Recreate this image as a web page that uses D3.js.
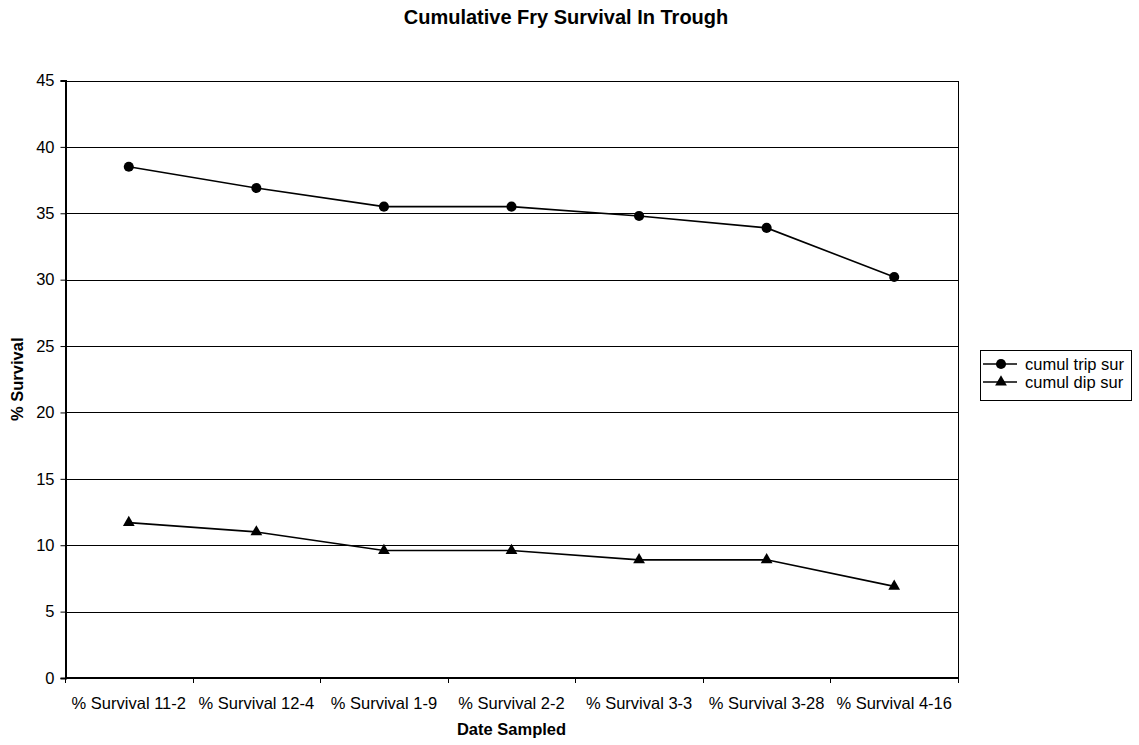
<!DOCTYPE html>
<html>
<head>
<meta charset="utf-8">
<script src="https://cdn.jsdelivr.net/npm/d3@7"></script>
<style>
  html, body { margin: 0; padding: 0; background: #fff; }
  svg { display: block; font-family: "Liberation Sans", Arial, sans-serif; }
</style>
</head>
<body>
<svg id="chart" width="1139" height="745"></svg>
<script>
// Sampling dates and cumulative survival (%) for each group
const categories = ["% Survival 11-2", "% Survival 12-4", "% Survival 1-9", "% Survival 2-2",
                    "% Survival 3-3", "% Survival 3-28", "% Survival 4-16"];
const tripSurvival = [38.5, 36.9, 35.5, 35.5, 34.8, 33.9, 30.2];
const dipSurvival = [11.7, 11.0, 9.6, 9.6, 8.9, 8.9, 6.9];
const yTicks = [0, 5, 10, 15, 20, 25, 30, 35, 40, 45];
const seriesNames = ["cumul trip sur", "cumul dip sur"];

const FONT = 16.5;
const svg = d3.select("#chart");
const plot = { left: 65, right: 958, top: 80.5, bottom: 678 };

const x = d3.scaleBand().domain(categories).range([plot.left, plot.right]);
const y = d3.scaleLinear().domain([0, 45]).range([plot.bottom, plot.top]);

// Horizontal gridlines
svg.append("g")
  .selectAll("line")
  .data(yTicks.filter(d => d > 0 && d < 45))
  .join("line")
  .attr("x1", plot.left).attr("x2", plot.right)
  .attr("y1", d => Math.round(y(d)) + 0.5).attr("y2", d => Math.round(y(d)) + 0.5)
  .attr("stroke", "#000").attr("stroke-width", 1);

// Plot frame
svg.append("rect")
  .attr("x", plot.left + 0.5).attr("y", Math.round(plot.top) + 0.5)
  .attr("width", plot.right - plot.left).attr("height", plot.bottom - Math.round(plot.top))
  .attr("fill", "none").attr("stroke", "#000").attr("stroke-width", 1);

// Y axis
const yAxis = svg.append("g")
  .attr("transform", `translate(${plot.left + 0.5},0)`)
  .call(d3.axisLeft(y).tickValues(yTicks).tickSize(5).tickPadding(6));
yAxis.select(".domain").attr("stroke", "#000").attr("stroke-width", 2);
yAxis.selectAll("text").attr("font-size", FONT).attr("fill", "#000")
  .attr("font-family", "Liberation Sans, Arial, sans-serif");

// X axis with ticks on band boundaries
const xAxis = svg.append("g")
  .attr("transform", `translate(0,${plot.bottom})`);
xAxis.append("line")
  .attr("x1", plot.left).attr("x2", plot.right)
  .attr("y1", 0).attr("y2", 0)
  .attr("stroke", "#000").attr("stroke-width", 2);
const boundaries = categories.map(c => x(c)).concat([plot.right]);
xAxis.selectAll("line.tick")
  .data(boundaries)
  .join("line").attr("class", "tick")
  .attr("x1", d => Math.round(d) + 0.5).attr("x2", d => Math.round(d) + 0.5)
  .attr("y1", 0).attr("y2", 5)
  .attr("stroke", "#000");
xAxis.selectAll("text")
  .data(categories)
  .join("text")
  .attr("x", d => x(d) + x.bandwidth() / 2)
  .attr("y", 31)
  .attr("text-anchor", "middle")
  .attr("font-size", FONT)
  .attr("fill", "#000")
  .text(d => d);

// Series lines and markers
const line = d3.line()
  .x((d, i) => x(categories[i]) + x.bandwidth() / 2)
  .y(d => y(d));

svg.append("path").datum(tripSurvival)
  .attr("d", line).attr("fill", "none").attr("stroke", "#000").attr("stroke-width", 1.6);
svg.append("path").datum(dipSurvival)
  .attr("d", line).attr("fill", "none").attr("stroke", "#000").attr("stroke-width", 1.6);

const circleSym = d3.symbol().type(d3.symbolCircle).size(80);
const triSym = d3.symbol().type(d3.symbolTriangle).size(60);

svg.append("g").selectAll("path")
  .data(tripSurvival)
  .join("path")
  .attr("d", circleSym)
  .attr("transform", (d, i) => `translate(${x(categories[i]) + x.bandwidth() / 2},${y(d)})`)
  .attr("fill", "#000");

svg.append("g").selectAll("path")
  .data(dipSurvival)
  .join("path")
  .attr("d", triSym)
  .attr("transform", (d, i) => `translate(${x(categories[i]) + x.bandwidth() / 2},${y(d)})`)
  .attr("fill", "#000");

// Titles
svg.append("text")
  .attr("x", 566).attr("y", 24)
  .attr("text-anchor", "middle").attr("font-size", 20).attr("font-weight", "bold")
  .text("Cumulative Fry Survival In Trough");

svg.append("text")
  .attr("x", (plot.left + plot.right) / 2).attr("y", 735)
  .attr("text-anchor", "middle").attr("font-size", FONT).attr("font-weight", "bold")
  .text("Date Sampled");

svg.append("text")
  .attr("transform", `translate(23,${(plot.top + plot.bottom) / 2}) rotate(-90)`)
  .attr("text-anchor", "middle").attr("font-size", FONT).attr("font-weight", "bold")
  .text("% Survival");

// Legend
const legend = svg.append("g").attr("transform", "translate(980,350)");
legend.append("rect")
  .attr("x", 0.5).attr("y", 0.5).attr("width", 151).attr("height", 50)
  .attr("fill", "#fff").attr("stroke", "#000");
const legendSyms = [circleSym, triSym];
seriesNames.forEach((name, i) => {
  const ly = 14 + i * 18;
  legend.append("line")
    .attr("x1", 3).attr("x2", 37).attr("y1", ly).attr("y2", ly)
    .attr("stroke", "#000").attr("stroke-width", 1.6);
  legend.append("path")
    .attr("d", legendSyms[i])
    .attr("transform", `translate(21,${ly})`)
    .attr("fill", "#000");
  legend.append("text")
    .attr("x", 45).attr("y", ly + 6)
    .attr("font-size", FONT)
    .text(name);
});
</script>
</body>
</html>
